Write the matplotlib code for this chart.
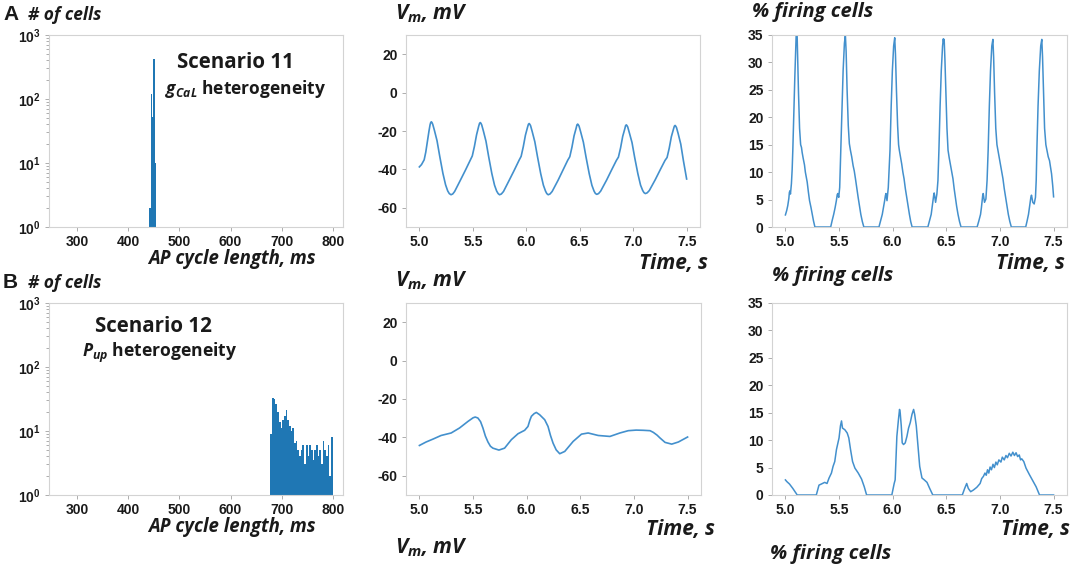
import matplotlib
matplotlib.use("Agg")
import matplotlib.pyplot as plt

# ---- data ----
# histogram A: AP cycle length (ms) bin centres and counts
cl_a = [442.3, 444.9, 447.5, 450.1, 452.7]
cnt_a = [2, 120, 53, 420, 10]
bin_w_a = 2.6

# histogram B
cl_b = [679.7, 683.0, 686.3, 689.6, 692.9, 696.2, 699.5, 702.8, 706.1, 709.4,
        712.7, 716.0, 719.3, 722.6, 725.9, 729.2, 732.5, 735.8, 739.1, 742.4,
        745.7, 749.0, 752.3, 755.6, 758.9, 762.2, 765.5, 768.8, 772.1, 775.4,
        778.7, 782.0, 785.3, 788.6, 791.9, 795.2, 798.5]
cnt_b = [9, 33, 32, 26, 20, 14, 11, 15, 17, 21,
         15, 12, 10, 11, 6.5, 7, 5, 4, 5, 6,
         3, 6, 4, 6, 5, 3.5, 5, 6, 4, 5,
         3, 7, 5, 4, 6, 2, 8]
bin_w_b = 3.3

# Vm, scenario 11
vm_a_t = [5.000, 5.020, 5.045, 5.060, 5.075, 5.090, 5.100, 5.106, 5.112, 5.118,
          5.125, 5.140, 5.165, 5.190, 5.220, 5.245, 5.265, 5.280, 5.296, 5.312,
          5.330, 5.383, 5.430, 5.476, 5.495, 5.515, 5.535, 5.555, 5.563, 5.570,
          5.576, 5.583, 5.598, 5.623, 5.648, 5.678, 5.703, 5.723, 5.737, 5.750,
          5.767, 5.787, 5.840, 5.887, 5.933, 5.952, 5.972, 5.992, 6.012, 6.020,
          6.027, 6.033, 6.040, 6.055, 6.080, 6.105, 6.135, 6.160, 6.180, 6.192,
          6.205, 6.222, 6.242, 6.297, 6.342, 6.388, 6.407, 6.427, 6.447, 6.467,
          6.474, 6.481, 6.487, 6.494, 6.509, 6.534, 6.559, 6.589, 6.614, 6.634,
          6.646, 6.659, 6.676, 6.696, 6.751, 6.797, 6.843, 6.862, 6.882, 6.902,
          6.922, 6.929, 6.936, 6.942, 6.949, 6.964, 6.989, 7.014, 7.044, 7.069,
          7.089, 7.101, 7.114, 7.131, 7.151, 7.206, 7.252, 7.298, 7.317, 7.337,
          7.357, 7.377, 7.385, 7.392, 7.398, 7.405, 7.420, 7.445, 7.470, 7.500]
vm_a_v = [-38.7, -37.5, -35.0, -31.0, -25.5, -20.0, -16.8, -15.6, -15.2, -15.6,
          -16.5, -19.5, -25.0, -33.0, -42.0, -48.0, -51.2, -52.6, -53.2, -52.8,
          -51.5, -45.7, -40.5, -35.2, -33.0, -28.0, -22.0, -17.5, -16.0, -15.6,
          -16.0, -16.8, -19.8, -25.3, -33.3, -42.2, -48.2, -51.3, -52.6, -53.2,
          -52.8, -51.5, -45.7, -40.5, -35.2, -33.2, -28.2, -22.2, -18.0, -16.5,
          -16.1, -16.5, -17.2, -20.2, -25.6, -33.4, -42.2, -48.2, -51.3, -52.6,
          -53.2, -52.8, -51.5, -45.7, -40.5, -35.2, -33.4, -28.5, -22.5, -18.4,
          -16.8, -16.4, -16.8, -17.5, -20.5, -25.8, -33.6, -42.3, -48.3, -51.3,
          -52.5, -53.0, -52.6, -51.3, -45.6, -40.4, -35.3, -33.6, -28.8, -22.8,
          -18.8, -17.2, -16.8, -17.2, -17.9, -20.9, -26.0, -33.8, -42.3, -48.2,
          -51.0, -52.1, -52.6, -52.2, -51.0, -45.4, -40.3, -35.3, -33.8, -29.0,
          -23.0, -19.0, -17.5, -17.1, -17.5, -18.2, -21.2, -26.8, -35.5, -45.0]

# Vm, scenario 12
vm_b_t = [5.000, 5.062, 5.130, 5.202, 5.296, 5.374, 5.452, 5.500, 5.520, 5.545,
          5.570, 5.592, 5.615, 5.639, 5.662, 5.685, 5.741, 5.794, 5.857, 5.919,
          5.981, 6.012, 6.030, 6.044, 6.070, 6.090, 6.121, 6.168, 6.199, 6.222,
          6.246, 6.275, 6.308, 6.355, 6.433, 6.511, 6.573, 6.667, 6.776, 6.869,
          6.947, 7.020, 7.087, 7.150, 7.181, 7.215, 7.243, 7.290, 7.352, 7.414,
          7.500]
vm_b_v = [-44.2, -42.4, -40.8, -39.0, -37.7, -35.1, -31.7, -29.8, -29.4, -29.9,
          -31.8, -35.1, -39.3, -42.4, -44.6, -45.6, -46.6, -45.6, -41.2, -38.1,
          -36.3, -34.3, -31.0, -29.0, -27.6, -27.0, -28.2, -30.8, -34.3, -39.0,
          -43.0, -46.5, -48.5, -47.3, -42.1, -38.3, -37.7, -39.0, -39.5, -37.7,
          -36.5, -36.2, -36.3, -36.5, -37.4, -38.8, -40.3, -42.6, -43.5, -42.4,
          -39.8]

# % firing cells, scenario 11
fire_a_t = [5.000, 5.012, 5.022, 5.032, 5.037, 5.042, 5.047, 5.056, 5.063, 5.069,
            5.078, 5.088, 5.097, 5.102, 5.108, 5.114, 5.122, 5.132, 5.142, 5.150,
            5.156, 5.165, 5.178, 5.186, 5.194, 5.203, 5.214, 5.225, 5.238, 5.250,
            5.262, 5.275, 5.422,
            5.436, 5.450, 5.463, 5.475, 5.483, 5.488, 5.497, 5.506, 5.516, 5.527,
            5.538, 5.550, 5.559, 5.566, 5.575, 5.586, 5.596, 5.606, 5.618, 5.631,
            5.642, 5.653, 5.666, 5.678, 5.690, 5.703, 5.717, 5.731, 5.872,
            5.887, 5.903, 5.914, 5.925, 5.932, 5.937, 5.947, 5.959, 5.975, 5.986,
            5.997, 6.009, 6.019, 6.026, 6.035, 6.046, 6.055, 6.062, 6.073, 6.084,
            6.095, 6.106, 6.118, 6.131, 6.143, 6.156, 6.168, 6.181, 6.328,
            6.343, 6.359, 6.367, 6.375, 6.383, 6.387, 6.400, 6.412, 6.422, 6.431,
            6.442, 6.453, 6.465, 6.472, 6.477, 6.480, 6.487, 6.496, 6.506, 6.516,
            6.527, 6.537, 6.550, 6.562, 6.573, 6.584, 6.596, 6.609, 6.623, 6.637,
            6.787,
            6.803, 6.819, 6.827, 6.834, 6.840, 6.844, 6.856, 6.869, 6.880, 6.890,
            6.901, 6.912, 6.924, 6.934, 6.941, 6.950, 6.961, 6.972, 6.981, 6.993,
            7.006, 7.017, 7.028, 7.040, 7.053, 7.066, 7.078, 7.092, 7.106, 7.240,
            7.253, 7.266, 7.274, 7.281, 7.288, 7.294, 7.306, 7.319, 7.331, 7.338,
            7.344, 7.355, 7.367, 7.380, 7.390, 7.397, 7.406, 7.416, 7.428, 7.438,
            7.450, 7.462, 7.472, 7.481, 7.492, 7.500]
fire_a_v = [2.2, 3.0, 3.9, 5.2, 6.3, 6.6, 6.0, 7.9, 10.5, 14.0,
            20.5, 27.5, 33.0, 36.0, 36.0, 31.0, 24.5, 18.0, 15.0, 14.5,
            13.6, 12.6, 11.3, 10.0, 9.1, 8.2, 6.4, 4.8, 3.6, 2.3,
            1.1, 0.0, 0.0,
            1.2, 2.3, 3.5, 4.8, 5.9, 6.1, 5.4, 7.2, 14.0, 22.0,
            28.5, 33.5, 35.0, 32.0, 25.0, 18.5, 15.2, 14.0, 12.8, 11.2,
            10.2, 8.8, 7.0, 5.4, 3.9, 2.3, 1.0, 0.0, 0.0,
            1.1, 2.3, 3.5, 4.8, 5.7, 6.1, 4.8, 7.2, 14.0, 22.0,
            28.5, 33.0, 34.5, 31.5, 25.0, 18.5, 15.0, 14.0, 12.8, 11.5,
            10.0, 8.8, 7.0, 5.4, 3.8, 2.3, 1.0, 0.0, 0.0,
            1.1, 2.3, 3.5, 4.8, 5.9, 6.2, 4.5, 6.0, 8.5, 14.0,
            22.0, 28.5, 33.0, 34.3, 33.5, 34.2, 30.5, 24.5, 18.0, 14.0,
            12.6, 11.5, 10.0, 8.8, 7.0, 5.4, 3.8, 2.3, 1.0, 0.0,
            0.0,
            1.1, 2.3, 3.5, 4.8, 5.9, 6.1, 4.5, 5.1, 8.5, 14.0,
            22.0, 28.5, 33.0, 34.2, 31.0, 24.5, 18.0, 15.0, 14.0, 12.6,
            11.2, 10.0, 8.8, 7.0, 5.4, 3.8, 2.3, 1.0, 0.0, 0.0,
            1.1, 2.3, 3.4, 4.5, 5.4, 5.8, 4.5, 4.2, 5.4, 8.5,
            14.0, 22.0, 28.5, 33.0, 34.2, 31.0, 24.5, 18.0, 15.0, 14.0,
            12.8, 12.1, 10.8, 9.7, 7.5, 5.5]

# % firing cells, scenario 12
fire_b_t = [5.000, 5.013, 5.038, 5.069, 5.100, 5.110, 5.288, 5.313, 5.335, 5.366,
            5.388, 5.407, 5.429, 5.444, 5.460, 5.476, 5.500, 5.513, 5.523, 5.532,
            5.554, 5.576, 5.591, 5.607, 5.626, 5.648, 5.679, 5.710, 5.735, 5.757,
            5.992, 6.014, 6.023, 6.039, 6.054, 6.064, 6.070, 6.080, 6.089, 6.101,
            6.117, 6.133, 6.148, 6.164, 6.180, 6.195, 6.205, 6.220, 6.236, 6.252,
            6.273, 6.295, 6.320, 6.345, 6.374, 6.649, 6.671, 6.690, 6.705, 6.727,
            6.752, 6.784, 6.815, 6.830, 6.846, 6.860, 6.872, 6.884, 6.896, 6.908,
            6.921, 6.935, 6.948, 6.962, 6.975, 6.990, 7.009, 7.022, 7.040, 7.056,
            7.070, 7.087, 7.103, 7.120, 7.135, 7.150, 7.165, 7.180, 7.192, 7.203,
            7.222, 7.243, 7.275, 7.306, 7.337, 7.369, 7.500]
fire_b_v = [2.75, 2.45, 2.0, 1.2, 0.3, 0.0, 0.0, 1.8, 2.0, 2.3,
            2.1, 3.1, 4.0, 5.2, 6.1, 8.3, 10.4, 12.6, 13.5, 12.2,
            11.9, 11.3, 10.4, 8.3, 6.1, 4.9, 4.0, 2.9, 1.5, 0.0,
            0.0, 2.1, 2.75, 10.7, 13.8, 15.6, 15.0, 12.6, 9.5, 9.2,
            9.5, 10.7, 12.2, 13.2, 14.7, 15.6, 14.7, 12.6, 8.9, 5.2,
            3.1, 2.75, 2.3, 1.2, 0.0, 0.0, 1.2, 2.1, 1.2, 0.6,
            0.9, 1.4, 2.1, 3.0, 3.4, 4.0, 3.6, 4.6, 4.0, 5.1,
            4.6, 5.6, 5.0, 6.0, 5.5, 6.4, 6.0, 6.9, 6.4, 7.2,
            6.8, 7.6, 7.1, 7.8, 7.2, 7.7, 7.0, 7.3, 6.4, 6.6,
            6.1, 4.9, 3.7, 2.6, 1.5, 0.0, 0.0]

# ---- styling ----
plt.rcParams['axes.unicode_minus'] = False
plt.rcParams['mathtext.fontset'] = 'custom'
plt.rcParams['mathtext.bf'] = 'Liberation Sans:bold'
plt.rcParams['mathtext.rm'] = 'Liberation Sans:bold'
plt.rcParams['mathtext.it'] = 'Open Sans:italic:bold'

W, H = 1072, 568
fig = plt.figure(figsize=(W / 100, H / 100), dpi=100)

LINE = '#4390cd'
BAR = '#1f77b4'
SPINE = '#d3d3d3'
TXT = '#1a1a1a'
TICKFONT = dict(family='Liberation Sans', weight='bold', size=10)
LAB = dict(family='Open Sans', weight='bold', style='italic')
SCENFONT = dict(family='Open Sans', weight='bold')


def px_axes(x0, y0, x1, y1):
    return fig.add_axes([x0 / W, 1 - y1 / H, (x1 - x0) / W, (y1 - y0) / H])


def style(ax):
    for s in ax.spines.values():
        s.set_color(SPINE)
        s.set_linewidth(0.8)
    ax.tick_params(which='both', color='#a0a0a0', width=0.6, length=3,
                   labelcolor=TXT, pad=3)
    ax.tick_params(which='minor', length=2)
    for lab in ax.get_xticklabels() + ax.get_yticklabels():
        lab.set_fontproperties(matplotlib.font_manager.FontProperties(**TICKFONT))


def hist_panel(ax, centres, counts, w):
    ax.set_yscale('log')
    ax.bar(centres, counts, width=w, color=BAR, linewidth=0, antialiased=False)
    ax.set_xlim(245, 820)
    ax.set_ylim(1, 1000)
    ax.set_xticks([300, 400, 500, 600, 700, 800])
    ax.set_yticks([1, 10, 100, 1000])
    ax.set_yticklabels([r'$\mathbf{10^{0}}$', r'$\mathbf{10^{1}}$',
                        r'$\mathbf{10^{2}}$', r'$\mathbf{10^{3}}$'])
    style(ax)


def vm_panel(ax, t, v):
    ax.plot(t, v, color=LINE, lw=1.2)
    ax.set_ylim(-70, 30)
    ax.set_yticks([20, 0, -20, -40, -60])
    ax.set_xticks([5.0, 5.5, 6.0, 6.5, 7.0, 7.5])
    ax.set_xticklabels(['5.0', '5.5', '6.0', '6.5', '7.0', '7.5'])
    style(ax)


def fire_panel(ax, t, v):
    ax.plot(t, v, color=LINE, lw=1.1)
    ax.set_ylim(0, 35)
    ax.set_yticks([0, 5, 10, 15, 20, 25, 30, 35])
    ax.set_xticks([5.0, 5.5, 6.0, 6.5, 7.0, 7.5])
    ax.set_xticklabels(['5.0', '5.5', '6.0', '6.5', '7.0', '7.5'])
    style(ax)


hist_panel(px_axes(49, 35, 343, 227), cl_a, cnt_a, bin_w_a)
hist_panel(px_axes(49, 303, 343, 495), cl_b, cnt_b, bin_w_b)
vm_panel(px_axes(406, 35, 700, 227), vm_a_t, vm_a_v)
vm_panel(px_axes(406, 303, 701, 495), vm_b_t, vm_b_v)
fire_panel(px_axes(772, 35, 1067, 227), fire_a_t, fire_a_v)
fire_panel(px_axes(772, 303, 1067, 495), fire_b_t, fire_b_v)


def ftext(x, y, s, **kw):
    fig.text(x / W, 1 - y / H, s, color=TXT, **kw)


# panel letters and axis captions
ftext(3, 15, 'A', family='Liberation Sans', weight='bold', size=15, va='center')
ftext(3, 283, 'B', family='Liberation Sans', weight='bold', size=15, va='center')
ftext(28, 15, '# of cells', va='center', size=12.5, **LAB)
ftext(28, 283, '# of cells', va='center', size=12.5, **LAB)
ftext(148, 259, 'AP cycle length, ms', va='center', size=13.4, **LAB)
ftext(148, 527, 'AP cycle length, ms', va='center', size=13.4, **LAB)
for yy in (14, 281, 548):
    ftext(395, yy, r'$V_m$, mV', va='center', size=15, **LAB)
ftext(752, 12, '% firing cells', va='center', size=14.5, **LAB)
ftext(772, 276, '% firing cells', va='center', size=14.5, **LAB)
ftext(770, 554, '% firing cells', va='center', size=14.5, **LAB)
ftext(708, 264, 'Time, s', va='center', ha='right', size=15, **LAB)
ftext(1065, 264, 'Time, s', va='center', ha='right', size=15, **LAB)
ftext(715, 529, 'Time, s', va='center', ha='right', size=15, **LAB)
ftext(1070, 529, 'Time, s', va='center', ha='right', size=15, **LAB)

# scenario annotations
ftext(235, 62, 'Scenario 11', size=14.8, ha='center', va='center', **SCENFONT)
ftext(246, 89, r'$g_{CaL}$ heterogeneity', size=12.5, ha='center', va='center',
      **SCENFONT)
ftext(153, 327, 'Scenario 12', size=14.8, ha='center', va='center', **SCENFONT)
ftext(160, 353, r'$P_{up}$ heterogeneity', size=12.6, ha='center', va='center',
      **SCENFONT)

fig.savefig('out.png', dpi=100)
